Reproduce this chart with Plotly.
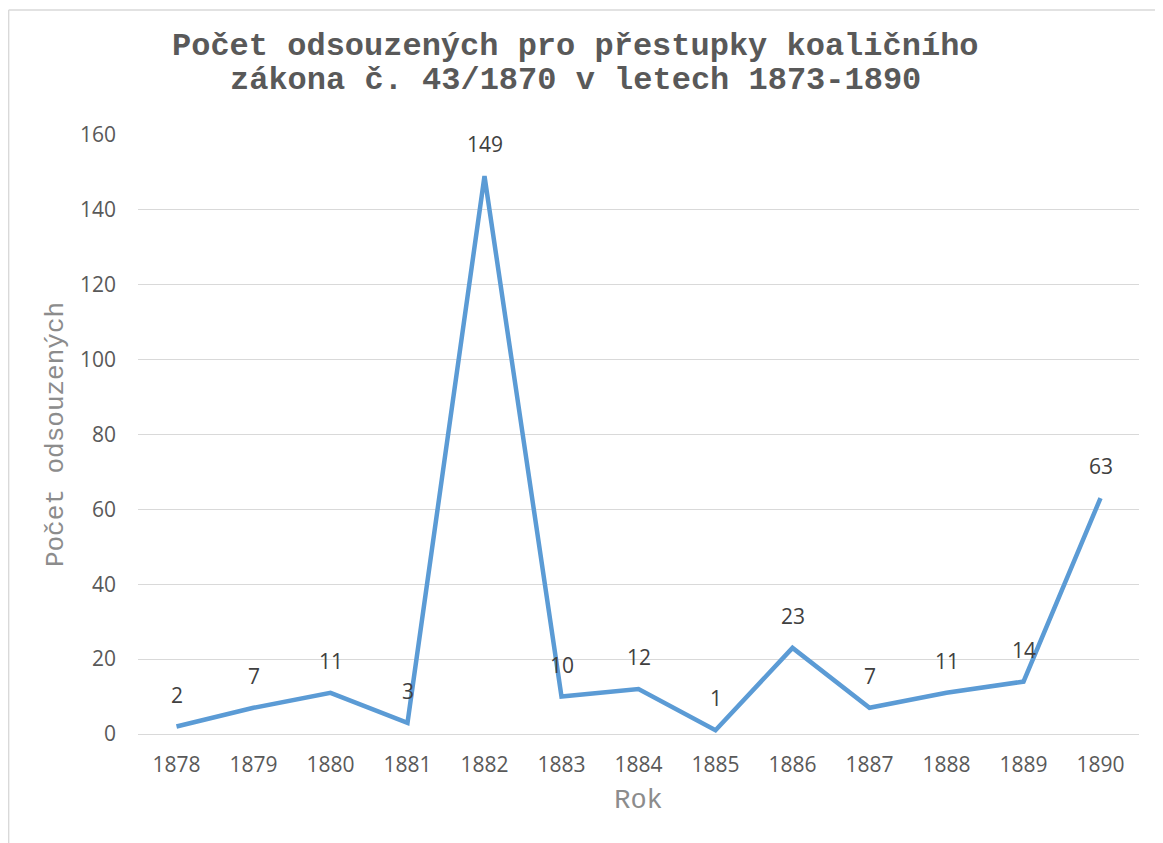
import plotly.graph_objects as go

years = ["1878", "1879", "1880", "1881", "1882", "1883", "1884",
         "1885", "1886", "1887", "1888", "1889", "1890"]
convicted = [2, 7, 11, 3, 149, 10, 12, 1, 23, 7, 11, 14, 63]
y_ticks = [0, 20, 40, 60, 80, 100, 120, 140, 160]

title_lines = [
    "Počet odsouzených pro přestupky koaličního",
    "zákona č. 43/1870 v letech 1873-1890",
]

# the page body has an 8px margin, so the figure starts at (8, 8) on screen
OFF = 8
W, H = 1163 - OFF, 843 - OFF
L, R, T, B = 137.5 - OFF, 23.5, 135 - OFF, 109
pw, ph = W - L - R, H - T - B


def px(x):
    # screen x -> paper
    return (x - OFF - L) / pw


def py(y):
    # screen y -> paper
    return (H + OFF - B - y) / ph


fig = go.Figure()

fig.add_trace(
    go.Scatter(
        x=years,
        y=convicted,
        mode="lines",
        line=dict(color="#5B9BD5", width=4.5),
        showlegend=False,
        hoverinfo="x+y",
    )
)

annotations = []
for i, v in enumerate(convicted):
    annotations.append(
        dict(
            x=i, y=v, xref="x", yref="y", text=str(v), showarrow=False,
            yshift=32, yanchor="middle",
            font=dict(family="Open Sans", size=21, color="#404040"),
        )
    )

for line, ypix in zip(title_lines, [47, 81]):
    annotations.append(
        dict(
            x=px(575), y=py(ypix), xref="paper", yref="paper", text=f"<b>{line}</b>",
            showarrow=False, xanchor="center", yanchor="middle",
            font=dict(family="Liberation Mono", size=32, color="#595959"),
        )
    )

fig.update_layout(
    width=W,
    height=H,
    margin=dict(l=L, r=R, t=T, b=B),
    paper_bgcolor="white",
    plot_bgcolor="white",
    annotations=annotations,
    xaxis=dict(
        type="category",
        range=[-0.5, len(years) - 0.5],
        showgrid=False,
        zeroline=False,
        showline=False,
        ticks="",
        ticklabelstandoff=16,
        tickfont=dict(family="Open Sans", size=21, color="#595959"),
        title=dict(text="Rok", standoff=12,
                   font=dict(family="Liberation Mono", size=27, color="#8c8c8c")),
    ),
    yaxis=dict(
        range=[0, 160],
        tickvals=y_ticks,
        showgrid=True,
        gridcolor="#d9d9d9",
        gridwidth=1,
        zeroline=True,
        zerolinecolor="#d9d9d9",
        zerolinewidth=1,
        showline=False,
        ticks="",
        ticklabelstandoff=21,
        tickfont=dict(family="Open Sans", size=21, color="#595959"),
        title=dict(text="Počet odsouzených", standoff=8,
                   font=dict(family="Liberation Mono", size=26, color="#8c8c8c")),
    ),
    shapes=[
        dict(type="line", xref="paper", yref="paper",
             x0=px(8), x1=px(8), y0=py(10), y1=py(850),
             line=dict(color="#d9d9d9", width=1.5)),
        dict(type="line", xref="paper", yref="paper",
             x0=px(8), x1=px(1170), y0=py(10), y1=py(10),
             line=dict(color="#d9d9d9", width=1.5)),
    ],
)

fig.write_html("out.html")
